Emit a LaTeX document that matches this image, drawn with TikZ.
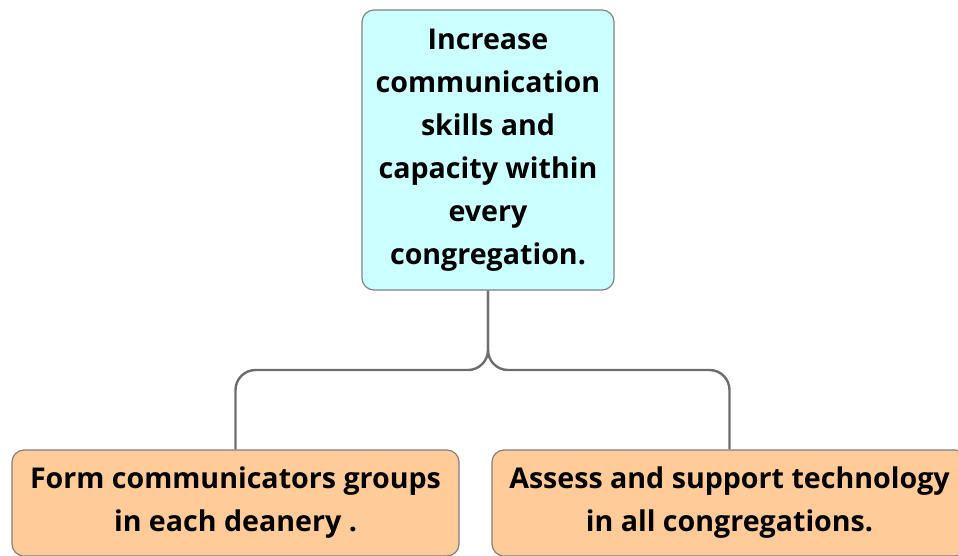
\documentclass[tikz,border=0pt]{standalone}
\usepackage{fontspec}
\setmainfont{Open Sans}
\usepackage{xcolor}
\usepackage{tikz}
\usetikzlibrary{calc}

\definecolor{goalcyan}{RGB}{204,255,255}
\definecolor{taskorange}{RGB}{255,204,153}
\definecolor{edgegray}{RGB}{128,128,128}

\tikzset{
	goal/.style={draw=edgegray,line width=1.2pt,rounded corners=12pt,
		fill=goalcyan,align=center,inner sep=0pt,
		font=\bfseries\fontsize{28.6}{43}\selectfont},
	task/.style={goal,fill=taskorange},
	link/.style={draw=edgegray!85!black,line width=2.4pt,rounded corners=20pt}
}

\begin{document}
\begin{tikzpicture}[x=1pt,y=-1pt]
		\def\ly{370}
		\clip (0,0) rectangle (958,555);
		\node[goal,minimum width=252pt,minimum height=280pt] (top) at (488,150)
			{Increase\\communication\\skills and\\capacity within\\every\\congregation.};
		\node[task,minimum width=447pt,minimum height=106pt] (left) at (235.5,503)
			{Form communicators groups\\in each deanery .};
		\node[task,minimum width=475pt,minimum height=106pt] (right) at (729.5,503)
			{Assess and support technology\\in all congregations.};
		\draw[link] (top.south) -- (488,\ly) -| (left.north);
		\draw[link] (top.south) -- (488,\ly) -| (right.north);
	\end{tikzpicture}
\end{document}
